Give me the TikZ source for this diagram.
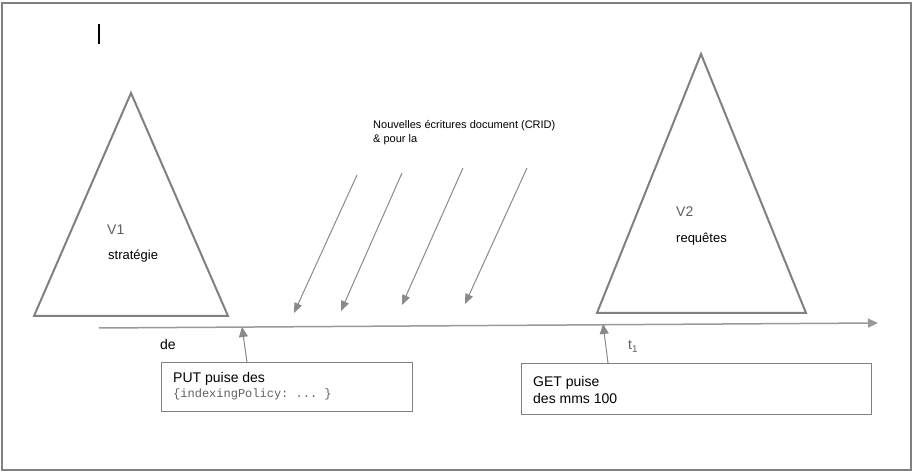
\documentclass[tikz,border=0pt]{standalone}
\usepackage{fontspec}
\setmainfont{Liberation Sans}
\setmonofont{Liberation Mono}
\usetikzlibrary{arrows.meta}
\definecolor{lgray}{HTML}{808080}
\definecolor{dgray}{HTML}{5F5F5F}
\definecolor{tgray}{HTML}{999999}
\definecolor{agray}{HTML}{8A8A8A}
\tikzset{
  frame/.style={draw=lgray, line width=2pt},
  tri/.style={draw=lgray, line width=2pt, line join=miter},
  tline/.style={draw=tgray, line width=1.5pt, -{Triangle[length=10pt,width=9pt]}},
  warrow/.style={draw=agray, line width=1pt, -{Triangle[length=10pt,width=8pt]}},
  uparrow/.style={draw=agray, line width=1pt, -{Triangle[length=10pt,width=9pt]}},
  msgbox/.style={draw=lgray, line width=1pt, anchor=north west, inner sep=0pt},
  lbl/.style={anchor=base west, inner sep=0pt, font=\fontsize{13}{15}\selectfont},
}
\begin{document}
\begin{tikzpicture}[x=1pt,y=-1pt]
\useasboundingbox (0,0) rectangle (914,473);
\draw[frame] (2,3) rectangle (911,470);
\draw[black, line width=1.2pt] (99,24) -- (99,44);
% triangles
\coordinate (t1a) at (131,93);
\coordinate (t1l) at (34,316);
\coordinate (t1r) at (228,316);
\draw[tri] (t1a) -- (t1l) -- (t1r) -- cycle;
\coordinate (t2a) at (701,54);
\coordinate (t2l) at (597,313);
\coordinate (t2r) at (806,313);
\draw[tri] (t2a) -- (t2l) -- (t2r) -- cycle;
\node[lbl, text=dgray, font=\fontsize{14}{16}\selectfont] (v1) at (107,235) {V1};
\node[lbl] (strat) at (108,260) {stratégie};
\node[lbl, text=dgray, font=\fontsize{14}{16}\selectfont] (v2) at (676,217) {V2};
\node[lbl] (req) at (676,243) {requêtes};
% timeline
\coordinate (ts) at (99,328);
\coordinate (te) at (878,323);
\draw[tline] (ts) -- (te);
% incoming writes
\node[lbl, font=\fontsize{11}{13}\selectfont, align=left, anchor=north west] (writes) at (373,120) {Nouvelles écritures document (CRID)\\[1pt]\& pour la};
\coordinate (w1s) at (357,175); \coordinate (w1e) at (294,313);
\coordinate (w2s) at (402,173); \coordinate (w2e) at (341,311);
\coordinate (w3s) at (463,168); \coordinate (w3e) at (402,305);
\coordinate (w4s) at (527,168); \coordinate (w4e) at (465,304);
\draw[warrow] (w1s) -- (w1e);
\draw[warrow] (w2s) -- (w2e);
\draw[warrow] (w3s) -- (w3e);
\draw[warrow] (w4s) -- (w4e);
% PUT box
\node[lbl, font=\fontsize{14}{16}\selectfont] (de) at (160,349) {de};
\node[msgbox, minimum width=251pt, minimum height=49pt] (put) at (161,362) {};
\node[lbl, font=\fontsize{14}{16}\selectfont] (putt) at (173,383) {PUT puise des};
\node[lbl, font=\fontsize{12}{14}\ttfamily, text=dgray] (putc) at (173,397) {\{indexingPolicy: ... \}};
\coordinate (puttip) at (242,327);
\draw[uparrow] ([xshift=86pt]put.north west) -- (puttip);
% GET box
\node[msgbox, minimum width=350pt, minimum height=51pt] (get) at (521,363) {};
\node[lbl, font=\fontsize{14}{16}\selectfont] (gett) at (533,386) {GET puise};
\node[lbl, font=\fontsize{14}{16}\selectfont] (getd) at (533,403) {des mms 100};
\coordinate (gettip) at (603,324);
\draw[uparrow] ([xshift=87pt]get.north west) -- (gettip);
\node[lbl, text=dgray, font=\fontsize{14}{16}\selectfont] (t1) at (628,350) {t\textsubscript{1}};
\end{tikzpicture}
\end{document}
